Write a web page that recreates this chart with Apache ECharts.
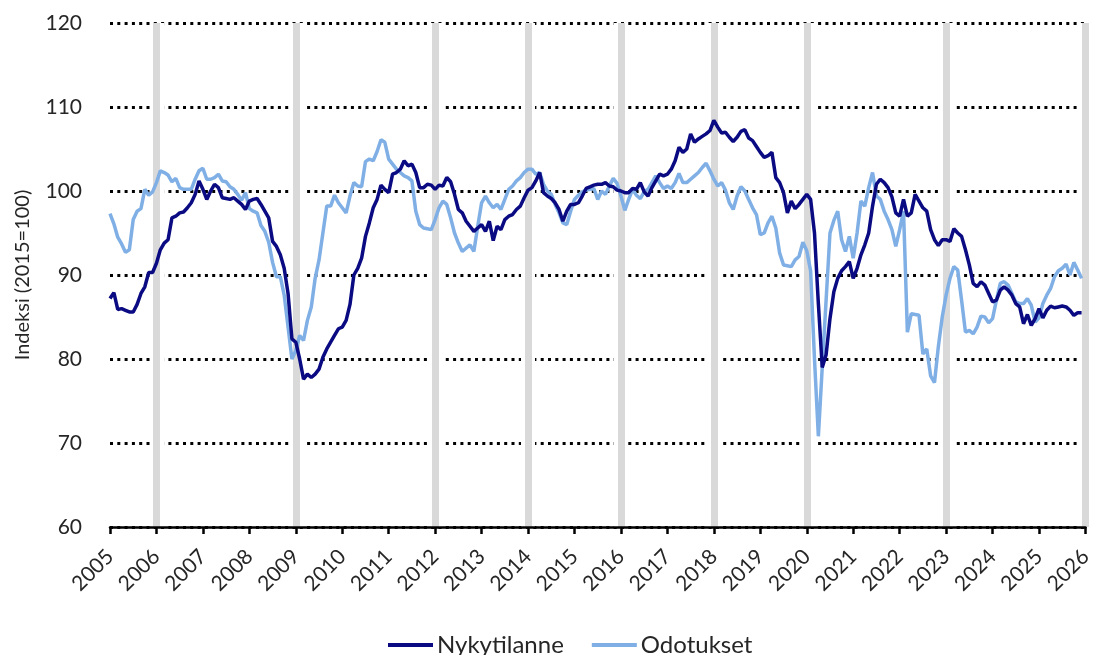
<!DOCTYPE html>
<html>
<head>
<meta charset="utf-8">
<script src="https://cdn.jsdelivr.net/npm/echarts@6/dist/echarts.min.js"></script>
<style>
html,body{margin:0;padding:0;background:#fff;}
#chart{width:1095px;height:655px;}
</style>
</head>
<body>
<div id="chart"></div>
<script>
// Monthly data, Jan 2005 .. Dec 2025
const startYear = 2005;
const seriesNames = ['Nykytilanne', 'Odotukset'];
const nykytilanne = [
  87.2, 87.9, 85.9, 86.0, 85.8, 85.6, 85.6, 86.5, 87.8, 88.6, 90.3, 90.3,
  91.4, 93.0, 93.8, 94.2, 96.8, 97.0, 97.4, 97.5, 98.0, 98.6, 99.6, 101.2,
  100.2, 99.0, 100.0, 100.8, 100.4, 99.2, 99.1, 99.0, 99.2, 98.8, 98.4, 97.8,
  98.8, 99.0, 99.1, 98.4, 97.6, 96.8, 94.0, 93.4, 92.4, 90.8, 87.8, 82.4,
  82.0, 80.0, 77.6, 78.2, 77.8, 78.2, 78.8, 80.2, 81.2, 82.0, 82.8, 83.6,
  83.8, 84.6, 86.5, 90.0, 90.8, 92.0, 94.6, 96.2, 98.0, 99.0, 100.7, 100.2,
  99.8, 102.0, 102.2, 102.6, 103.6, 103.0, 103.2, 102.2, 100.4, 100.4, 100.8, 100.7,
  100.2, 100.7, 100.6, 101.6, 101.1, 99.6, 97.8, 97.4, 96.4, 95.8, 95.2, 95.6,
  96.0, 95.2, 96.4, 94.1, 95.8, 95.4, 96.6, 97.0, 97.2, 97.8, 98.2, 99.2,
  100.1, 100.4, 101.2, 102.2, 99.8, 99.4, 99.1, 98.6, 97.8, 96.4, 97.6, 98.4,
  98.4, 98.6, 99.4, 100.3, 100.5, 100.7, 100.8, 100.8, 101.0, 100.6, 100.5, 100.1,
  100.0, 99.8, 99.8, 100.3, 100.2, 101.0, 99.9, 99.4, 100.4, 101.2, 102.0, 101.8,
  102.0, 102.6, 103.6, 105.2, 104.6, 105.0, 106.8, 105.8, 106.2, 106.5, 106.8, 107.2,
  108.4, 107.6, 106.9, 107.0, 106.4, 105.9, 106.4, 107.1, 107.3, 106.3, 106.0, 105.3,
  104.6, 104.0, 104.2, 104.6, 101.6, 101.0, 99.8, 97.4, 98.8, 97.9, 98.4, 99.0,
  99.6, 99.0, 95.0, 86.6, 79.0, 80.5, 84.8, 88.0, 89.6, 90.5, 91.0, 91.6,
  89.6, 90.8, 92.4, 93.6, 95.0, 98.2, 100.8, 101.4, 101.0, 100.4, 99.3, 97.4,
  97.0, 99.0, 97.0, 97.4, 99.6, 98.8, 98.0, 97.6, 95.4, 94.2, 93.5, 94.2,
  94.2, 94.0, 95.5, 95.0, 94.6, 93.0, 91.2, 89.0, 88.6, 89.2, 88.8, 87.8,
  86.8, 87.0, 88.2, 88.6, 88.2, 87.6, 86.6, 86.2, 84.2, 85.3, 84.0, 84.8,
  86.0, 84.9, 85.8, 86.3, 86.1, 86.2, 86.3, 86.2, 85.8, 85.2, 85.5, 85.5
];
const odotukset = [
  97.3, 96.1, 94.5, 93.7, 92.7, 93.0, 96.6, 97.6, 97.9, 100.2, 99.5, 99.9,
  101.0, 102.4, 102.2, 101.9, 101.1, 101.5, 100.4, 100.2, 100.2, 100.2, 101.4, 102.4,
  102.7, 101.4, 101.4, 101.6, 102.0, 101.2, 101.1, 100.5, 100.2, 99.6, 98.9, 99.8,
  97.9, 97.6, 97.4, 95.9, 95.2, 93.9, 91.5, 89.8, 89.8, 87.6, 83.8, 80.0,
  81.0, 82.8, 82.2, 84.6, 86.2, 89.6, 91.8, 95.0, 98.2, 98.2, 99.5, 98.6,
  98.0, 97.4, 99.4, 101.0, 100.6, 100.5, 103.5, 103.8, 103.6, 104.7, 106.1, 105.8,
  103.8, 103.2, 102.6, 102.2, 101.8, 101.6, 101.2, 97.6, 96.0, 95.6, 95.5, 95.4,
  96.6, 98.0, 98.8, 98.4, 96.8, 95.0, 93.8, 92.8, 93.2, 93.6, 92.8, 95.8,
  98.6, 99.4, 98.6, 98.0, 98.4, 97.8, 99.0, 100.2, 100.6, 101.2, 101.6, 102.2,
  102.6, 102.6, 102.0, 102.2, 100.8, 100.0, 99.6, 98.4, 97.4, 96.2, 96.0, 97.6,
  99.0, 99.5, 99.9, 100.1, 100.2, 100.3, 99.0, 100.0, 99.6, 100.6, 101.5, 100.9,
  99.4, 97.7, 99.0, 100.2, 99.5, 99.1, 99.9, 100.2, 101.0, 101.8, 101.0, 100.3,
  100.6, 100.3, 101.0, 102.1, 101.0, 101.0, 101.4, 101.8, 102.2, 102.8, 103.3, 102.4,
  101.4, 100.6, 101.0, 100.1, 98.6, 97.8, 99.4, 100.5, 100.0, 99.0, 98.0, 97.2,
  94.8, 95.0, 96.2, 97.0, 95.6, 92.6, 91.2, 91.1, 91.0, 91.8, 92.2, 93.9,
  92.9, 90.5, 80.0, 70.8, 79.0, 87.0, 95.0, 96.5, 97.6, 94.2, 92.8, 94.6,
  92.0, 95.0, 98.8, 98.2, 100.4, 102.2, 99.4, 99.0, 97.6, 96.6, 95.4, 93.4,
  95.4, 97.6, 83.2, 85.4, 85.3, 85.2, 80.6, 81.2, 78.0, 77.2, 81.5, 85.0,
  87.6, 89.6, 91.0, 90.6, 87.0, 83.2, 83.4, 83.0, 83.8, 85.1, 85.0, 84.3,
  84.8, 87.0, 89.0, 89.2, 88.8, 87.8, 86.8, 86.6, 86.6, 87.2, 86.4, 84.4,
  84.9, 86.6, 87.6, 88.4, 89.8, 90.5, 90.8, 91.3, 90.0, 91.5, 90.6, 89.6
];
// Years marked with grey vertical bands
const bandYears = [2006, 2009, 2012, 2014, 2016, 2018, 2020, 2023, 2026];
const yTicks = [60, 70, 80, 90, 100, 110, 120];
const xMin = 2005, xMax = 2026;

const toPairs = arr => arr.map((v, i) => [startYear + i / 12, v]);
const FONT = 'Lato';
const TXT = '#262626';

const chart = echarts.init(document.getElementById('chart'), null, {renderer: 'canvas'});
chart.setOption({
  animation: false,
  backgroundColor: '#ffffff',
  grid: {left: 110, right: 7, top: 23, bottom: 128, containLabel: false},
  legend: {
    data: seriesNames,
    top: 628,
    left: 383,
    icon: 'rect',
    itemWidth: 45,
    itemHeight: 4,
    itemGap: 28,
    textStyle: {fontFamily: FONT, fontSize: 24, color: TXT, padding: [0, 0, 0, -1]}
  },
  xAxis: {
    type: 'value',
    min: xMin, max: xMax, interval: 1,
    z: 6,
    axisLine: {show: true, lineStyle: {color: '#000', width: 2.5}},
    axisTick: {show: true, length: 7, lineStyle: {color: '#000', width: 2.5}},
    splitLine: {show: false},
    axisLabel: {
      rotate: 45, margin: 26, fontFamily: FONT, fontSize: 21, color: TXT,
      formatter: v => String(Math.round(v))
    }
  },
  yAxis: {
    type: 'value',
    min: yTicks[0], max: yTicks[yTicks.length - 1], interval: 10,
    name: 'Indeksi (2015=100)',
    nameLocation: 'middle',
    nameGap: 77,
    nameRotate: 90,
    nameTextStyle: {fontFamily: FONT, fontSize: 20, color: TXT},
    axisLine: {show: false},
    axisTick: {show: false},
    axisLabel: {margin: 28, fontFamily: FONT, fontSize: 21, color: TXT},
    splitLine: {
      show: true,
      lineStyle: {color: '#000', width: 3, type: [3, 4.3]}
    }
  },
  series: [
    {
      name: 'bandsWhite', type: 'line', data: [], z: 1, silent: true,
      markLine: {
        silent: true, symbol: ['none', 'none'], animation: false, z: 1,
        label: {show: false},
        lineStyle: {color: '#ffffff', width: 14, type: 'solid'},
        data: bandYears.map(y => ({xAxis: y}))
      }
    },
    {
      name: 'bands', type: 'line', data: [], z: 2, silent: true,
      markLine: {
        silent: true, symbol: ['none', 'none'], animation: false, z: 2,
        label: {show: false},
        lineStyle: {color: '#d9d9d9', width: 7, type: 'solid'},
        data: bandYears.map(y => ({xAxis: y}))
      }
    },
    {
      name: seriesNames[0], type: 'line', data: toPairs(nykytilanne),
      showSymbol: false, symbol: 'none', z: 4,
      lineStyle: {color: '#0a0a82', width: 3.5},
      itemStyle: {color: '#0a0a82'}
    },
    {
      name: seriesNames[1], type: 'line', data: toPairs(odotukset),
      showSymbol: false, symbol: 'none', z: 3,
      lineStyle: {color: '#7fafe5', width: 3.5},
      itemStyle: {color: '#7fafe5'}
    }
  ]
});
</script>
</body>
</html>
